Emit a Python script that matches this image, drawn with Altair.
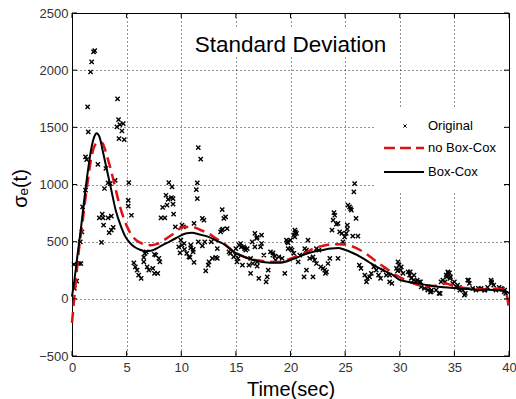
import altair as alt
import pandas as pd

# ---------------- data ----------------
x_ticks = [0, 5, 10, 15, 20, 25, 30, 35, 40]
y_ticks = [-500, 0, 500, 1000, 1500, 2000, 2500]

orig_t = [0.21, 0.18, 0.43, 0.67, 0.82, 0.76, 0.9, 0.97, 1.24, 1.24, 1.34, 1.43, 1.49, 1.7, 1.8, 1.97, 2.08,
          2.37, 2.5, 2.77, 2.83, 2.7, 2.89, 2.97, 3.1, 3.3, 3.5, 3.3, 3.6, 3.4, 3.6, 3.77, 3.95, 4.11, 4.17,
          4.26, 4.38, 4.57, 4.69, 4.3, 4.78, 5.15, 5.15, 5.2, 5.44,
          5.66, 5.8, 5.96, 6.1, 6.33, 6.57, 6.67, 6.8, 6.57, 6.88, 7.03, 7.4, 7.55, 7.85, 7.55, 7.95, 8.04, 7.67,
          8.15, 8.5, 8.3, 8.6, 8.8, 9.1, 9.25, 8.7, 9.25, 9.3, 8.86, 9.16, 9.46, 10.07, 10.2, 9.77, 10.07, 10.3,
          9.96, 10.26, 9.89, 10.5, 10.8, 11.17,
          11.56, 11.78, 11.47, 11.38, 11.47, 11.17, 11.93, 12.08, 10.87, 11.1, 11.56, 11.93, 10.87, 11.08, 10.7,
          12.24, 12.47, 12.54, 12.84, 12.15, 12.75, 13.3, 13.3, 13.15,
          13.6, 13.7, 13.8, 13.75, 13.9, 14.06, 14.2, 15.0, 15.3, 15.5, 15.8, 14.5, 14.8, 15.1, 14.37, 14.98,
          15.2, 15.43, 15.73, 15.9, 16.04,
          16.2, 16.55, 16.95, 17.1, 16.5, 15.6, 16.35, 16.95, 16.35, 16.74, 16.95, 17.35, 17.26, 17.56, 18.17,
          18.38, 18.63, 17.96, 17.87, 17.77, 16.74, 16.9, 17.35, 18.4, 18.57,
          19.48, 18.93, 19.23, 19.7, 20.0, 20.3, 20.45, 20.14, 20.3, 19.63, 19.78, 19.78, 20.03, 20.4, 20.55,
          20.4, 20.7, 20.85, 21.24, 21.46, 21.6, 21.3, 21.46, 21.76, 22.06, 22.2, 22.37, 22.06, 22.37, 22.6,
          22.77, 22.98, 23.13, 23.29, 23.2, 23.43, 23.6, 23.9, 24.05, 23.98, 24.2, 24.35, 23.8, 24.5, 24.35,
          24.7, 24.96, 25.1, 24.8, 25.26, 25.4, 25.57, 25.5, 25.2, 25.2, 26.0, 25.7, 26.17, 25.87, 25.8,
          26.3, 26.45, 26.8, 27.03, 26.95, 27.24, 27.4, 27.63, 27.85, 28.06, 28.24, 28.45, 28.77, 29.07, 29.07,
          29.28,
          29.84, 29.93, 30.14, 30.08, 29.7, 29.8, 30.3, 30.76, 30.9, 31.05, 31.3, 31.5, 31.8, 31.96, 32.26,
          32.57, 32.87, 33.33, 33.6, 30.96, 31.3, 31.6, 31.9, 32.6, 32.9, 32.8, 33.7,
          33.78, 33.94, 34.25, 34.4, 34.55, 34.64, 34.85, 35.0, 35.3, 35.46, 35.77, 35.92, 36.22, 36.37, 36.68,
          36.98, 37.44, 37.74, 38.04, 38.35, 38.4, 38.8, 39.1, 39.4, 39.56, 39.7,
          34.45, 34.3, 34.15, 34.6, 35.2, 35.5, 36.0, 36.3, 37.2, 37.8, 38.4, 38.6, 39.3, 39.6]
orig_y = [91, 301, 155, 309, 309, 498, 586, 804, 950, 1241, 1218, 1678, 1460, 1984, 2072, 2160, 2170,
          1177, 708, 740, 708, 493, 644, 965, 1140, 1014, 1008, 708, 723, 580, 600, 624, 1037, 1503, 1748,
          1568, 1524, 1468, 1533, 1402, 1393, 862, 810, 1017, 731,
          315, 280, 251, 207, 178, 362, 397, 411, 323, 280, 251, 266, 222, 222, 388, 353, 323, 382,
          708, 708, 799, 906, 869, 886, 877, 819, 828, 740, 1017, 979, 629, 644, 629, 455, 469, 432,
          513, 484, 402, 397, 362, 318,
          1323, 1221, 1014, 956, 877, 659, 703, 688, 446, 432, 498, 463, 469, 411, 367,
          245, 295, 323, 353, 498, 498, 353, 440, 362,
          586, 600, 609, 781, 703, 717, 615, 440, 469, 455, 440, 397, 367, 323, 411, 382,
          353, 484, 455, 426, 440,
          295, 309, 323, 178, 498, 295, 353, 286, 222, 455, 537, 557, 455, 382, 411,
          382, 338, 251, 192, 149, 572, 528, 484, 402, 373,
          222, 367, 353, 498, 513, 557, 586, 426, 397, 513, 490, 440, 440, 600, 572,
          542, 323, 382, 192, 251, 513, 440, 426, 353, 367, 338, 309, 192, 440, 426,
          280, 266, 251, 236, 222, 309, 353, 688, 731, 755, 653, 659, 600, 586, 353,
          572, 542, 572, 498, 819, 804, 775, 790, 644, 609, 703, 548, 548, 1008, 935,
          295, 266, 207, 178, 149, 192, 222, 280, 251, 207, 178, 251, 207, 207, 149,
          135,
          323, 295, 280, 251, 266, 245, 222, 236, 207, 178, 163, 149, 149, 105, 91,
          76, 61, 76, 47, 236, 207, 163, 149, 105, 76, 61, 47,
          149, 163, 207, 236, 227, 192, 135, 149, 120, 100, 76, 32, 163, 135, 91,
          76, 91, 76, 100, 163, 135, 76, 100, 82, 61, 47,
          222, 192, 149, 178, 105, 76, 47, 163, 91, 76, 149, 120, 91, 76]

boxcox_t = [0, 0.2, 0.5, 0.8, 1.1, 1.5, 1.8, 2.05, 2.25, 2.5, 2.8, 3.2, 3.6, 4.0, 4.5, 4.9, 5.3, 5.7, 6.2,
            6.7, 7.2, 7.6, 8.2, 8.7, 9.5, 10.4, 11.0, 11.6, 12.5, 13.2, 13.8, 14.8, 15.9, 17.4, 18.9, 20.3,
            21.2, 22.1, 23.0, 23.7, 24.4, 24.9, 25.6, 26.4, 27.2, 27.9, 28.7, 29.4, 29.9, 30.8, 31.7, 32.6,
            33.5, 34.4, 35.4, 36.3, 37.2, 38.1, 39.0, 39.5, 40]
boxcox_y = [20, 150, 380, 600, 850, 1150, 1330, 1420, 1448, 1420, 1300, 1125, 950, 775, 630, 542, 490, 455,
            430, 417, 420, 434, 465, 490, 530, 572, 577, 565, 542, 510, 484, 411, 362, 323, 315, 350,
            385, 411, 428, 440, 445, 431, 405, 367, 320, 280, 240, 207, 170, 148, 134, 118,
            105, 100, 91, 85, 76, 80, 76, 70, 50]

nobc_t = [0, 0.3, 0.6, 1.0, 1.4, 1.8, 2.2, 2.5, 2.8, 3.2, 3.8, 4.4, 5.2, 6.1, 7.2, 7.8, 8.4, 9.3, 10.2, 11.0,
          11.8, 12.5, 13.3, 14.1, 15.0, 15.6, 16.5, 17.4, 18.9, 19.8, 20.6, 21.4, 22.1, 23.0, 24.0, 24.9, 25.6,
          26.4, 27.2, 27.9, 28.7, 29.4, 30.2, 31.0, 31.7, 32.6, 33.5, 34.2, 35.0, 36.0, 37.0, 38.0, 39.0, 39.5,
          39.8, 40]
nobc_y = [-210, 100, 400, 700, 1000, 1250, 1360, 1375, 1360, 1250, 1037, 804, 600, 498, 469, 480, 513, 570,
          629, 629, 600, 572, 520, 469, 400, 373, 345, 332, 323, 345, 373, 405, 440, 465, 478, 475, 460,
          425, 375, 323, 270, 222, 180, 145, 120, 110, 115, 134, 110, 95, 85, 80, 91, 80,
          30, -100]

# ---------------- chart ----------------
W, H = 437, 343
FONT = "Liberation Sans"

xscale = alt.Scale(domain=[0, 40], nice=False, zero=False)
yscale = alt.Scale(domain=[-500, 2500], nice=False, zero=False)

grid_kw = dict(grid=True, gridDash=[1, 3], gridColor="black", gridOpacity=0.85, gridWidth=1,
               ticks=False, domain=False, labelFont=FONT, labelFontSize=13, labelColor="#333",
               labelFlush=False, labelOverlap=False, format="d",
               titleFont=FONT, titleFontSize=20, titleFontWeight="normal", titleColor="black")

xaxis = alt.Axis(values=x_ticks, labelPadding=5, title="Time(sec)", titleX=W / 2, titleY=39,
                 titleAlign="center", titleBaseline="alphabetic", **grid_kw)
yaxis = alt.Axis(values=y_ticks, labelPadding=4, title="σₑ(t)", titleAngle=270, titleX=-52, titleY=175,
                 titleAlign="center", titleBaseline="middle", **grid_kw)


def X():
    return alt.X("t:Q", scale=xscale, axis=xaxis)


def Y():
    return alt.Y("y:Q", scale=yscale, axis=yaxis)


one = pd.DataFrame({"a": [0]})
xt = pd.DataFrame({"t": x_ticks})
yt = pd.DataFrame({"y": y_ticks})
orig = pd.DataFrame({"t": orig_t, "y": orig_y})
bc = pd.DataFrame({"t": boxcox_t, "y": boxcox_y})
nbc = pd.DataFrame({"t": nobc_t, "y": nobc_y})

# inward ticks on all four sides
tick_b = alt.Chart(xt).mark_rule(color="black").encode(x=X(), y=alt.value(H), y2=alt.value(H - 5))
tick_t = alt.Chart(xt).mark_rule(color="black").encode(x=X(), y=alt.value(0), y2=alt.value(5))
tick_l = alt.Chart(yt).mark_rule(color="black").encode(y=Y(), x=alt.value(0), x2=alt.value(5))
tick_r = alt.Chart(yt).mark_rule(color="black").encode(y=Y(), x=alt.value(W), x2=alt.value(W - 5))

# white boxes behind the in-plot title and legend
title_box = alt.Chart(one).mark_rect(color="white").encode(
    x=alt.value(112), x2=alt.value(324), y=alt.value(16), y2=alt.value(44))
legend_box = alt.Chart(one).mark_rect(color="white").encode(
    x=alt.value(304), x2=alt.value(432), y=alt.value(95), y2=alt.value(178))

XSHAPE = "M-1,-1L1,1M-1,1L1,-1"
pts = alt.Chart(orig).mark_point(shape=XSHAPE, filled=False, stroke="black", strokeWidth=1.4,
                                 size=18, opacity=1).encode(x=X(), y=Y())
red = alt.Chart(nbc).mark_line(color="#dd1111", strokeWidth=2.5, strokeDash=[11, 6],
                               interpolate="monotone").encode(x=X(), y=Y())
black = alt.Chart(bc).mark_line(color="black", strokeWidth=2,
                                interpolate="monotone").encode(x=X(), y=Y())

title_txt = alt.Chart(one).mark_text(text="Standard Deviation", font=FONT, fontSize=22.5, align="center",
                                     baseline="alphabetic", color="black").encode(
    x=alt.value(W / 2), y=alt.value(39))

leg_pt = alt.Chart(one).mark_point(shape=XSHAPE, filled=False, stroke="black", strokeWidth=1,
                                   size=10, opacity=1).encode(x=alt.value(333), y=alt.value(113))
leg_red = alt.Chart(one).mark_rule(color="#dd1111", strokeWidth=2.5, strokeDash=[11, 5]).encode(
    x=alt.value(312), x2=alt.value(352), y=alt.value(135))
leg_black = alt.Chart(one).mark_rule(color="black", strokeWidth=2).encode(
    x=alt.value(312), x2=alt.value(352), y=alt.value(159))
leg_txt_kw = dict(font=FONT, fontSize=13, align="left", baseline="middle", color="black")
leg_t1 = alt.Chart(one).mark_text(text="Original", **leg_txt_kw).encode(x=alt.value(356), y=alt.value(113))
leg_t2 = alt.Chart(one).mark_text(text="no Box-Cox", **leg_txt_kw).encode(x=alt.value(356), y=alt.value(135))
leg_t3 = alt.Chart(one).mark_text(text="Box-Cox", **leg_txt_kw).encode(x=alt.value(356), y=alt.value(159))

chart = alt.layer(
    title_box, legend_box, pts, red, black, tick_b, tick_t, tick_l, tick_r,
    title_txt, leg_pt, leg_red, leg_black, leg_t1, leg_t2, leg_t3
).properties(
    width=W, height=H,
    autosize=alt.AutoSizeParams(type="none"),
    padding={"left": 72, "top": 13, "right": 7, "bottom": 43},
    background="white",
).configure_view(stroke="black", strokeWidth=1)

chart.save("out.html", embed_options={"renderer": "svg", "actions": False})
